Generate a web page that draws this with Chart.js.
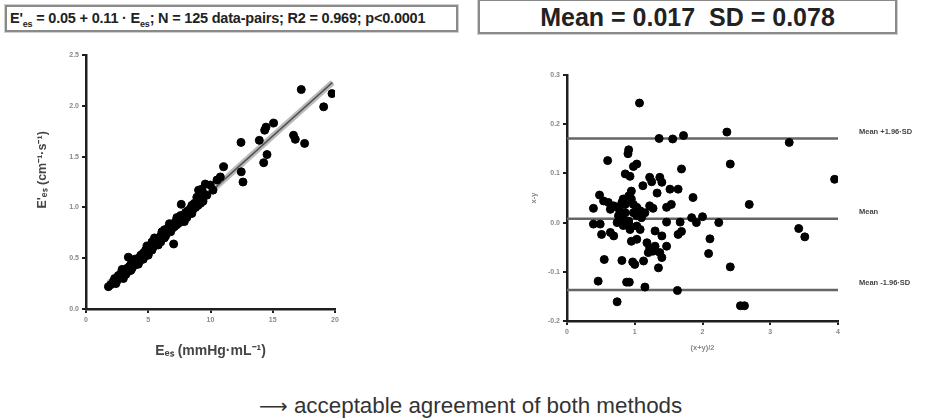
<!DOCTYPE html>
<html>
<head>
<meta charset="utf-8">
<script src="https://cdn.jsdelivr.net/npm/chart.js@4"></script>
<style>
  body { margin: 0; background: #fff; width: 931px; height: 419px; position: relative; overflow: hidden;
         font-family: "Liberation Sans", Arial, sans-serif; }
  .box { position: absolute; border: 2px solid #8a8a8a; box-shadow: 0 0 0 1px #d0d0d0; background: #fff;
         font-weight: bold; color: #222; white-space: nowrap; }
  #eqBox { left: 5px; top: 5px; width: 446px; height: 23px; font-size: 14.5px; line-height: 23px; padding-left: 3px; letter-spacing: -0.2px; }
  #statBox { left: 478px; top: -1px; width: 415px; height: 31px; font-size: 25px; line-height: 33px; text-align: center; }
  #note { position: absolute; left: 259px; top: 393px; font-size: 22.4px; color: #333; white-space: nowrap; }
  #note .arr { font-family: "DejaVu Sans", sans-serif; font-size: 20px; }
  canvas { position: absolute; }
  #fitChart { left: 20px; top: 40px; }
  #baChart { left: 525px; top: 60px; }
</style>
</head>
<body>
<div class="box" id="eqBox">E'<sub style="font-size:9px">es</sub> = 0.05 + 0.11 · E<sub style="font-size:9px">es</sub>; N = 125 data-pairs; R2 = 0.969; p&lt;0.0001</div>
<div class="box" id="statBox">Mean = 0.017&nbsp;&nbsp;SD = 0.078</div>
<canvas id="fitChart" width="330" height="340"></canvas>
<canvas id="baChart" width="406" height="305"></canvas>
<div id="note"><span class="arr">⟶</span> acceptable agreement of both methods</div>
<script>
// left panel: Ees vs E'es
const eesX = [1.8, 2.0, 2.2, 2.3, 2.4, 2.5, 2.6, 2.7, 2.8, 2.9, 2.9, 3.0, 3.0, 3.1, 3.2, 3.3, 3.4, 3.4, 3.5, 3.6,
  3.6, 3.7, 3.8, 3.9, 3.9, 4.0, 4.1, 4.2, 4.2, 4.3, 4.4, 4.5, 4.6, 4.6, 4.7, 4.8, 4.9, 4.9, 5.0, 5.0,
  5.1, 5.2, 5.3, 5.3, 5.4, 5.5, 5.5, 5.6, 5.7, 5.8, 5.8, 5.9, 6.0, 6.0, 6.1, 6.1, 6.2, 6.3, 6.3, 6.4,
  6.5, 6.6, 6.7, 6.7, 6.8, 6.8, 6.9, 7.0, 7.04, 7.1, 7.2, 7.3, 7.3, 7.4, 7.5, 7.6, 7.65, 7.7, 7.8, 7.9,
  7.9, 8.0, 8.1, 8.2, 8.3, 8.4, 8.5, 8.5, 8.6, 8.7, 8.8, 8.9, 9.0, 9.04, 9.2, 9.32, 9.4, 9.5, 9.58, 9.7,
  9.98, 10.2, 10.52, 10.79, 11.05, 12.45, 12.47, 12.61, 13.92, 14.27, 14.35, 14.46, 14.54, 15.07, 16.67, 16.81, 17.29, 17.56, 19.09, 19.76];
const eesY = [0.22, 0.24, 0.27, 0.30, 0.25, 0.28, 0.33, 0.31, 0.35, 0.33, 0.39, 0.36, 0.30, 0.38, 0.34, 0.40, 0.51, 0.37, 0.42, 0.44,
  0.38, 0.40, 0.46, 0.43, 0.49, 0.48, 0.45, 0.50, 0.44, 0.47, 0.53, 0.51, 0.55, 0.49, 0.52, 0.58, 0.55, 0.62, 0.60, 0.53,
  0.57, 0.62, 0.66, 0.58, 0.61, 0.64, 0.70, 0.68, 0.65, 0.70, 0.63, 0.67, 0.72, 0.66, 0.70, 0.76, 0.74, 0.78, 0.70, 0.72,
  0.76, 0.80, 0.77, 0.84, 0.82, 0.76, 0.79, 0.84, 0.64, 0.81, 0.86, 0.83, 0.90, 0.88, 0.85, 0.92, 1.03, 0.90, 0.87, 0.92,
  0.86, 0.95, 0.90, 0.97, 0.94, 0.99, 1.02, 0.94, 0.98, 1.04, 1.00, 1.10, 1.02, 1.17, 1.04, 1.18, 1.06, 1.13, 1.23, 1.12,
  1.22, 1.17, 1.27, 1.30, 1.40, 1.64, 1.35, 1.25, 1.66, 1.44, 1.76, 1.79, 1.52, 1.83, 1.71, 1.67, 2.16, 1.63, 1.99, 2.12];
const regX = [1.8, 19.8];
const regY = [0.25, 2.23];
const fitTicksX = [0, 5, 10, 15, 20];
const fitTicksY = [0, 0.5, 1.0, 1.5, 2.0, 2.5];

// right panel: Bland-Altman
const baX = [1.07, 1.36, 1.56, 1.72, 2.36, 3.28, 0.91, 0.90, 0.60, 2.41, 1.03, 0.98, 1.69, 0.86, 0.93, 1.22, 1.37, 1.25, 1.40, 3.95,
  1.12, 1.33, 0.95, 0.91, 0.83, 1.52, 1.64, 0.48, 1.86, 0.54, 0.61, 0.69, 0.74, 0.81, 0.86, 0.95, 0.98, 1.03, 1.22, 1.54,
  1.47, 2.69, 0.39, 0.64, 0.78, 0.86, 0.98, 1.08, 1.15, 1.27, 0.76, 0.83, 0.91, 1.03, 1.10, 1.84, 2.00, 1.47, 1.67, 1.91,
  2.24, 0.39, 0.49, 0.74, 0.83, 0.91, 1.03, 1.08, 0.93, 0.51, 0.64, 0.69, 1.30, 1.40, 1.64, 1.69, 3.42, 3.51, 2.11, 0.95,
  1.03, 1.18, 1.22, 1.30, 1.37, 1.47, 1.20, 1.27, 1.40, 2.09, 1.35, 0.55, 0.81, 0.97, 1.00, 1.13, 2.41, 0.46, 0.92, 0.88,
  1.15, 1.63, 0.74, 2.56, 2.62];
const baY = [0.243, 0.171, 0.170, 0.177, 0.184, 0.163, 0.148, 0.140, 0.126, 0.119, 0.119, 0.114, 0.109, 0.099, 0.094, 0.092, 0.092, 0.083, 0.082, 0.088,
  0.075, 0.060, 0.064, 0.054, 0.048, 0.068, 0.068, 0.056, 0.051, 0.044, 0.041, 0.034, 0.031, 0.041, 0.037, 0.048, 0.037, 0.031, 0.034, 0.037,
  0.031, 0.037, 0.029, 0.027, 0.024, 0.020, 0.020, 0.024, 0.020, 0.029, 0.014, 0.007, 0.003, 0.014, 0.010, 0.010, 0.012, 0.001, 0.001, 0.000,
  0.000, -0.003, -0.003, 0.000, -0.006, -0.003, -0.007, -0.014, -0.014, -0.024, -0.020, -0.027, -0.017, -0.027, -0.024, -0.018, -0.012, -0.029, -0.033, -0.038,
  -0.034, -0.041, -0.051, -0.048, -0.061, -0.048, -0.061, -0.058, -0.071, -0.063, -0.092, -0.075, -0.077, -0.080, -0.085, -0.078, -0.090, -0.119, -0.121, -0.121,
  -0.131, -0.138, -0.161, -0.169, -0.169];
const limitValues = [0.171, 0.008, -0.137];
const limitLabels = ['Mean +1.96·SD', 'Mean', 'Mean -1.96·SD'];
const baRangeX = [0, 4];
const baTicksX = [0, 1, 2, 3, 4];
const baTicksY = [-0.2, -0.1, 0.0, 0.1, 0.2, 0.3];

const tickFont = { family: 'Liberation Sans, Arial', size: 7, weight: 'bold' };
const axisBorder = { color: '#1e1e1e', width: 2.5 };
const tickGrid = { drawOnChartArea: false, drawTicks: true, tickLength: 4, color: '#1e1e1e', lineWidth: 2 };

function fixTicks(list) {
  return s => { s.ticks = list.map(v => ({ value: v })); };
}

// left chart
new Chart(document.getElementById('fitChart'), {
  type: 'scatter',
  data: {
    datasets: [
      {
        data: eesX.map((x, i) => ({ x: x, y: eesY[i] })),
        backgroundColor: '#000', borderColor: '#000', pointRadius: 4, order: 0
      },
      {
        data: regX.map((x, i) => ({ x: x, y: regY[i] })),
        showLine: true, borderColor: 'rgba(120,120,120,0.5)', borderWidth: 6, pointRadius: 0, order: 2
      },
      {
        data: regX.map((x, i) => ({ x: x, y: regY[i] })),
        showLine: true, borderColor: '#555', borderWidth: 1.6, pointRadius: 0, order: 1
      }
    ]
  },
  options: {
    responsive: false, animation: false, devicePixelRatio: 1,
    layout: { padding: { left: 0, right: 15, top: 15, bottom: 0 } },
    plugins: { legend: { display: false }, tooltip: { enabled: false } },
    scales: {
      x: {
        type: 'linear', min: 0, max: 20,
        afterBuildTicks: fixTicks(fitTicksX),
        afterFit: s => { s.height = 71; },
        border: axisBorder, grid: tickGrid,
        ticks: { font: tickFont, color: '#888', padding: 3 },
        title: { display: true, text: 'Eₑₛ (mmHg·mL⁻¹)', color: '#444',
                 font: { family: 'Liberation Sans, Arial', size: 14, weight: 'bold' }, padding: { top: 0, bottom: 20 } }
      },
      y: {
        type: 'linear', min: 0, max: 2.5,
        afterBuildTicks: fixTicks(fitTicksY),
        afterFit: s => { s.width = 66; },
        border: axisBorder, grid: tickGrid,
        ticks: { font: tickFont, color: '#888', padding: 3, callback: v => v.toFixed(1) },
        title: { display: true, text: "\u00a0\u00a0\u00a0\u00a0\u00a0\u00a0\u00a0E'ₑₛ (cm⁻¹·s⁻¹)", color: '#444',
                 font: { family: 'Liberation Sans, Arial', size: 12.5, weight: 'bold' }, padding: { top: 15, bottom: 0 } }
      }
    }
  }
});

// labels for the limit lines on the right of the plot
const limitLabelPlugin = {
  id: 'limitLabels',
  afterDatasetsDraw(chart) {
    const { ctx, chartArea, scales } = chart;
    ctx.save();
    ctx.font = 'bold 7.5px "Liberation Sans", Arial';
    ctx.fillStyle = '#444';
    ctx.textBaseline = 'middle';
    limitValues.forEach((v, i) => {
      ctx.fillText(limitLabels[i], chartArea.right + 21, scales.y.getPixelForValue(v) - 7);
    });
    ctx.restore();
  }
};

// right chart
new Chart(document.getElementById('baChart'), {
  type: 'scatter',
  data: {
    datasets: [
      {
        data: baX.map((x, i) => ({ x: x, y: baY[i] })),
        backgroundColor: '#000', borderColor: '#000', pointRadius: 4, order: 0
      },
      ...limitValues.map(v => ({
        data: baRangeX.map(x => ({ x: x, y: v })),
        showLine: true, borderColor: '#666', borderWidth: 2.5, pointRadius: 0, order: 1
      }))
    ]
  },
  options: {
    responsive: false, animation: false, devicePixelRatio: 1,
    layout: { padding: { left: 0, right: 93, top: 15, bottom: 0 } },
    plugins: { legend: { display: false }, tooltip: { enabled: false } },
    scales: {
      x: {
        type: 'linear', min: 0, max: 4,
        afterBuildTicks: fixTicks(baTicksX),
        afterFit: s => { s.height = 44; },
        border: axisBorder, grid: tickGrid,
        ticks: { font: tickFont, color: '#888', padding: 3 },
        title: { display: true, text: '(x+y)/2', color: '#888',
                 font: { family: 'Liberation Sans, Arial', size: 7.5, weight: 'bold' }, padding: { top: 0, bottom: 13 } }
      },
      y: {
        type: 'linear', min: -0.2, max: 0.3,
        afterBuildTicks: fixTicks(baTicksY),
        afterFit: s => { s.width = 42; },
        border: axisBorder, grid: tickGrid,
        ticks: { font: tickFont, color: '#888', padding: 3, callback: v => v.toFixed(1) },
        title: { display: true, text: 'x-y', color: '#888',
                 font: { family: 'Liberation Sans, Arial', size: 7.5, weight: 'bold' }, padding: { top: 4, bottom: 0 } }
      }
    }
  },
  plugins: [limitLabelPlugin]
});
</script>
</body>
</html>
